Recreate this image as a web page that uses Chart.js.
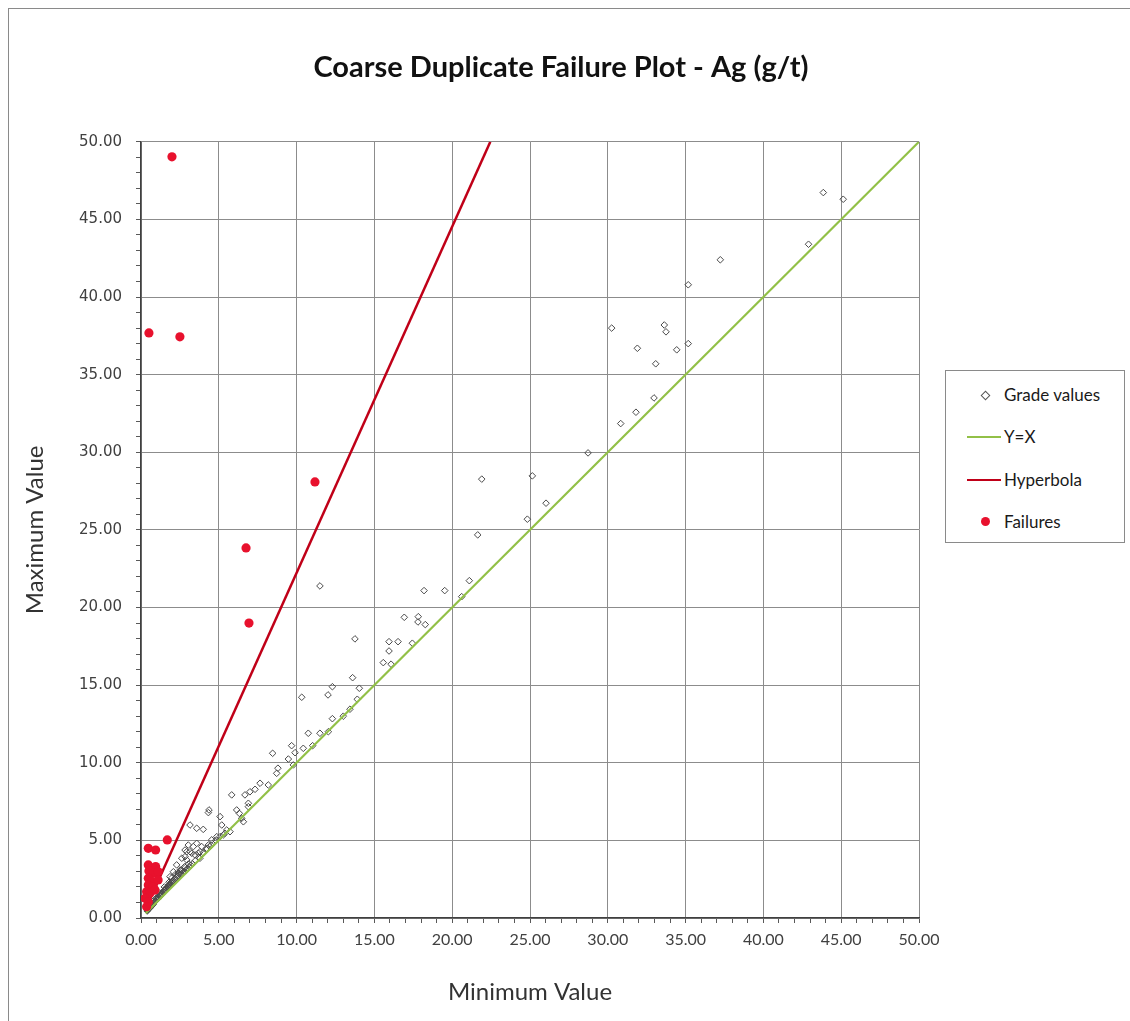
<!DOCTYPE html>
<html><head><meta charset="utf-8">
<script src="https://cdn.jsdelivr.net/npm/chart.js@4.4.1/dist/chart.umd.min.js"></script>
<style>
html,body{margin:0;padding:0;background:#fff;}
#wrap{position:relative;width:1130px;height:1021px;overflow:hidden;background:#fff;}
#frame{position:absolute;left:8px;top:8px;width:1140px;height:1040px;border:1px solid #8a8a8a;box-sizing:border-box;}
#c{position:absolute;left:0;top:0;}
#legend{position:absolute;left:945px;top:370px;width:180px;height:173px;border:1px solid #8a8a8a;box-sizing:border-box;background:#fff;font-family:Lato,"DejaVu Sans",sans-serif;font-size:17px;color:#1a1a1a;}
.item{position:absolute;left:58px;height:22px;line-height:22px;white-space:nowrap;}
.dia{position:absolute;left:36px;width:5px;height:5px;border:1px solid #555;transform:rotate(45deg);}
.ln{position:absolute;left:21px;width:34px;height:2px;}
.dot{position:absolute;left:35px;width:9px;height:9px;border-radius:50%;background:#e8112d;}
</style></head>
<body>
<div id="wrap">
<div id="frame"></div>
<canvas id="c" width="1130" height="1021"></canvas>
<div id="legend">
  <div class="dia" style="top:21px"></div><div class="item" style="top:13px">Grade values</div>
  <div class="ln" style="top:65px;background:#92c047"></div><div class="item" style="top:55px">Y=X</div>
  <div class="ln" style="top:108px;background:#c00018"></div><div class="item" style="top:98px">Hyperbola</div>
  <div class="dot" style="top:146px"></div><div class="item" style="top:140px">Failures</div>
</div>
</div>
<script>
const xMajorTicks = [0,5,10,15,20,25,30,35,40,45,50];
const yMajorTicks = [0,5,10,15,20,25,30,35,40,45,50];

const gradeMin = [43.85,45.13,42.9,37.23,35.17,30.25,33.63,33.74,31.9,34.43,35.17,33.08,32.97,31.81,30.83,28.73,
  21.9,25.15,26.03,24.83,21.64,11.5,18.19,19.52,21.1,20.61,16.92,17.82,17.8,18.27,13.75,15.94,16.52,15.94,17.44,15.57,16.07,13.6,12.3,14.03,10.33,12.02,13.9,12.3,13.0,13.43,
  10.75,11.5,12.04,9.68,9.9,9.47,8.46,10.43,11.03,9.79,8.8,8.72,
  5.83,6.68,7.0,7.33,7.65,8.18,4.37,4.33,3.15,3.58,4.0,5.08,6.15,6.32,6.47,6.58,6.9,6.9,5.19,5.51,5.72,5.4,5.29,4.87,5.08,4.54,
  3.04,3.36,2.83,3.15,3.47,2.83,3.79,4.22,4.43,3.79,4.33,3.58,3.9,2.94,3.26,3.69,2.62,2.94,2.29,2.51,2.08,1.86,
  0.4,0.45,0.5,0.55,0.6,0.65,0.7,0.75,0.8,0.85,0.9,0.95,1.0,1.05,1.1,1.15,1.2,1.25,1.3,1.35,1.4,1.45,1.5,1.55,1.6,1.65,1.7,1.75,1.8,1.85,1.9,1.95,2.0,2.1,2.15,2.2,2.3,2.35,2.4,2.5,2.6,2.7,2.8,2.9,3.0,3.1,3.2,
  1.2,1.5,1.8,2.0,2.2,2.4,2.6,2.8,1.0,0.8,3.3,3.5,3.7,4.0,4.2,4.5,4.8,
  0.42,0.52,0.62,0.72,0.82,0.92,1.02,1.12,1.22,1.32,1.42,1.52,1.62,1.72,1.82,1.92,2.05,2.25,2.45,2.65,2.85,3.05];
const gradeMax = [46.73,46.3,43.4,42.4,40.79,38.0,38.2,37.76,36.7,36.6,37.0,35.7,33.5,32.58,31.85,29.96,
  28.27,28.48,26.72,25.69,24.68,21.39,21.09,21.09,21.73,20.7,19.37,19.41,19.07,18.9,17.98,17.8,17.8,17.2,17.7,16.45,16.35,15.48,14.9,14.8,14.22,14.37,14.09,12.84,13.0,13.45,
  11.9,11.9,12.0,11.1,10.65,10.24,10.61,10.93,11.1,9.86,9.65,9.32,
  7.93,7.93,8.13,8.29,8.68,8.57,6.96,6.79,5.99,5.78,5.71,6.53,6.96,6.74,6.42,6.2,7.39,7.17,5.99,5.67,5.56,5.46,5.35,5.24,5.24,5.03,
  4.7,4.6,4.38,4.27,4.06,3.95,3.85,4.49,4.6,4.27,4.7,4.81,4.6,4.27,4.17,4.17,3.85,3.74,3.42,3.09,2.98,2.66,
  0.45,0.55,0.6,0.62,0.7,0.75,0.8,0.88,0.9,1.0,1.05,1.1,1.15,1.2,1.3,1.32,1.4,1.45,1.5,1.55,1.62,1.7,1.75,1.8,1.85,1.9,1.98,2.05,2.1,2.15,2.2,2.3,2.35,2.4,2.5,2.55,2.6,2.7,2.75,2.8,2.85,2.95,3.0,3.1,3.2,3.3,3.4,
  1.6,2.0,2.3,2.6,2.8,2.9,3.1,3.3,1.3,1.1,3.5,3.7,3.9,4.2,4.4,4.7,5.0,
  0.5,0.62,0.75,0.85,0.98,1.1,1.22,1.35,1.48,1.58,1.7,1.82,1.95,2.02,2.15,2.28,2.42,2.62,2.88,3.05,3.25,3.48];

const failMin = [1.99,0.51,2.5,6.75,6.94,11.18,1.69,0.47,0.94,0.47,0.94,0.51,0.79,1.11,0.47,0.69,0.47,0.79,0.36,0.58,0.9,0.26,0.47,0.36,1.1];
const failMax = [49.03,37.69,37.44,23.84,19.0,28.09,5.03,4.49,4.38,3.42,3.31,3.03,2.88,2.98,2.56,2.34,2.13,2.02,1.69,1.59,1.8,1.27,1.05,0.73,2.45];

const yxMin = [0.3,50];
const yxMax = [0.3,50];
const hypMin = [0.3,22.45];
const hypMax = [0.6,50];

const zip = (a,b) => a.map((v,i)=>({x:v,y:b[i]}));

const gridColor = majors => c => (c.tick && majors.includes(Math.round(c.tick.value*1000)/1000)) ? '#8c8c8c' : 'rgba(0,0,0,0)';

new Chart(document.getElementById('c'), {
  type: 'scatter',
  data: {
    datasets: [
      {label:'Failures', data: zip(failMin,failMax), pointStyle:'circle', pointRadius:4.6, backgroundColor:'#e8112d', borderColor:'#e8112d', borderWidth:0, order:0},
      {label:'Hyperbola', type:'line', data: zip(hypMin,hypMax), borderColor:'#c00018', borderWidth:2.5, pointRadius:0, fill:false, order:1},
      {label:'Y=X', type:'line', data: zip(yxMin,yxMax), borderColor:'#92c047', borderWidth:2.2, pointRadius:0, fill:false, order:2},
      {label:'Grade values', data: zip(gradeMin,gradeMax), pointStyle:'rectRot', pointRadius:3.3, backgroundColor:'rgba(0,0,0,0)', borderColor:'#4a4a4a', borderWidth:1, order:3}
    ]
  },
  options: {
    responsive:false, animation:false,
    layout:{padding:{left:0,right:8,top:0,bottom:0}},
    plugins:{
      legend:{display:false},
      tooltip:{enabled:false},
      title:{display:true, text:'Coarse Duplicate Failure Plot - Ag (g/t)', color:'#111',
        font:{family:'Lato', size:29, weight:'bold', lineHeight:1.2}, padding:{top:50,bottom:57}}
    },
    scales:{
      x:{type:'linear', min:0, max:50,
        afterFit: s => { s.height = 103; s.paddingLeft=0; s.paddingRight=0; },
        ticks:{stepSize:1, autoSkip:false, maxRotation:0, padding:7, color:'#404040',
          font:{family:'Lato', size:16},
          callback: v => xMajorTicks.includes(Math.round(v*1000)/1000) ? Number(v).toFixed(2) : ''},
        grid:{color:gridColor(xMajorTicks), tickColor:'#595959', tickLength:5, lineWidth:1},
        border:{color:'#404040', width:1.5},
        title:{display:true, text:'Minimum Value', color:'#333', font:{family:'Lato', size:24}, padding:{top:0,bottom:14}}
      },
      y:{type:'linear', min:0, max:50,
        afterFit: s => { s.width = 141; s.paddingTop=0; s.paddingBottom=0; },
        ticks:{stepSize:1, autoSkip:false, padding:14, color:'#404040',
          font:{family:'DejaVu Sans', size:15},
          callback: v => yMajorTicks.includes(Math.round(v*1000)/1000) ? Number(v).toFixed(2) : ''},
        grid:{color:gridColor(yMajorTicks), tickColor:'#595959', tickLength:5, lineWidth:1},
        border:{color:'#404040', width:1.5},
        title:{display:true, text:'Maximum Value', color:'#333', font:{family:'Lato', size:24}, padding:{top:21,bottom:0}}
      },
      yRight:{type:'linear', position:'right', min:0, max:50, display:true,
        afterFit: s => { s.width = 203; s.paddingTop=0; s.paddingBottom=0; },
        ticks:{display:false},
        grid:{drawOnChartArea:false, drawTicks:false},
        border:{display:false}
      }
    }
  }
});
</script>
</body></html>
